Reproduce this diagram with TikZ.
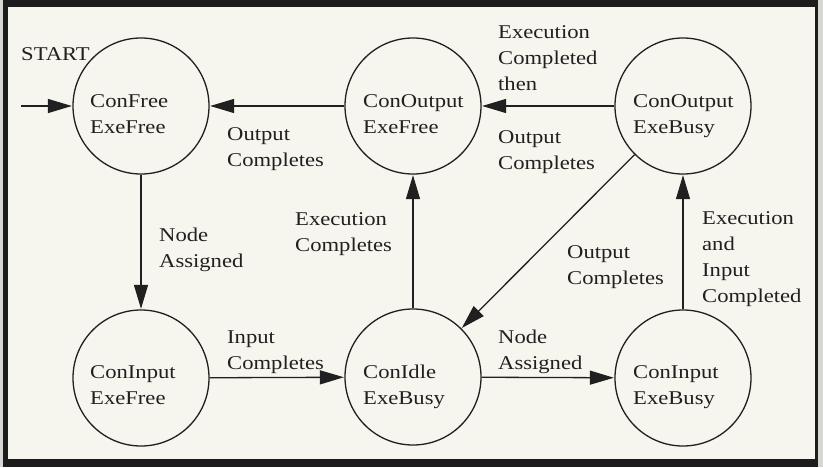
\documentclass[tikz,border=0pt]{standalone}
\usepackage{fontspec}
\setmainfont{Liberation Serif}[FakeStretch=1.16]
\usetikzlibrary{arrows.meta}
\definecolor{ink}{HTML}{202020}
\definecolor{paper}{HTML}{F6F5EE}
\definecolor{rim}{HTML}{1C1C1C}
\definecolor{outside}{HTML}{D6D6D2}
\tikzset{
  every picture/.style={x=1pt,y=-1pt},
  state/.style={circle,draw=ink,line width=1.3pt,minimum size=136pt,inner sep=0pt},
  % multi-line texts are placed by the baseline of their last line
  txt/.style={anchor=base west,align=left,inner sep=0pt,text=ink,
    font=\fontsize{19.5}{25.8}\selectfont},
  arr/.style={draw=ink,line width=1.3pt,-{Triangle[length=24pt,width=14pt]},shorten >=0.5pt},
}
\begin{document}
\begin{tikzpicture}
  % sheet and frame
  \fill[outside] (0,0) rectangle (823,467);
  \fill[rim] (3,0) rectangle (818,467);
  \fill[paper] (8,7) rectangle (815,459);
  \useasboundingbox (0,0) rectangle (823,467);

  % states
  \node[state] (c1) at (141,106) {};
  \node[state] (c2) at (413,106) {};
  \node[state] (c3) at (683,106) {};
  \node[state] (c4) at (141,378) {};
  \node[state] (c5) at (413,377) {};
  \node[state] (c6) at (683,378) {};

  % state names
  \node[txt] (t1) at ([shift={(-51,27)}]c1.center) {ConFree\\ExeFree};
  \node[txt] (t2) at ([shift={(-50,27)}]c2.center) {ConOutput\\ExeFree};
  \node[txt] (t3) at ([shift={(-50,27)}]c3.center) {ConOutput\\ExeBusy};
  \node[txt] (t4) at ([shift={(-51,26)}]c4.center) {ConInput\\ExeFree};
  \node[txt] (t5) at ([shift={(-50,27)}]c5.center) {ConIdle\\ExeBusy};
  \node[txt] (t6) at ([shift={(-50,26)}]c6.center) {ConInput\\ExeBusy};

  % entry point
  \coordinate (s) at (21,106);
  \node[txt] (start) at (21,60) {START};

  % transitions
  \draw[arr] (s) -- (c1);
  \draw[arr] (c2) -- (c1);
  \draw[arr] (c3) -- (c2);
  \draw[arr] (c1) -- (c4);
  \draw[arr] (c4) -- (c5);
  \draw[arr] (c5) -- (c6);
  \draw[arr] (c5) -- (c2);
  \draw[arr] (c6) -- (c3);
  \draw[arr] (c3) -- (c5);

  % transition labels
  \node[txt] (l21) at (227,166) {Output\\Completes};
  \node[txt] (l32a) at (498,90) {Execution\\Completed\\then};
  \node[txt] (l32b) at (498,169) {Output\\Completes};
  \node[txt] (l14) at (159,267) {Node\\Assigned};
  \node[txt] (l52) at (295,251) {Execution\\Completes};
  \node[txt] (l35) at (567,284) {Output\\Completes};
  \node[txt] (l63) at (702,302) {Execution\\and\\Input\\Completed};
  \node[txt] (l45) at (227,369) {Input\\Completes};
  \node[txt] (l56) at (498,369) {Node\\Assigned};
\end{tikzpicture}
\end{document}
